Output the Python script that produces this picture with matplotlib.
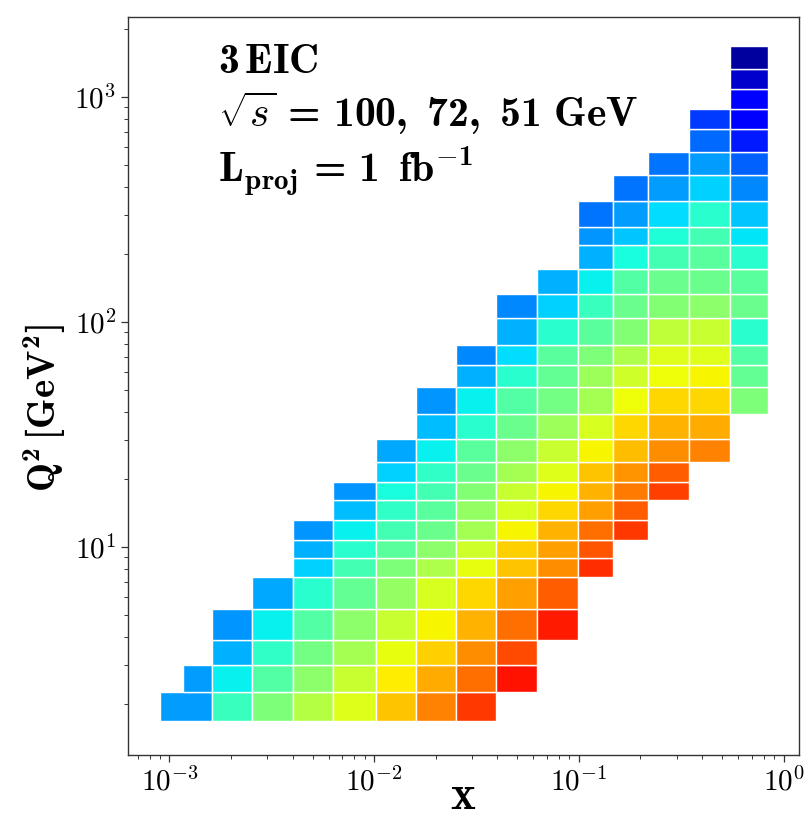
import matplotlib
matplotlib.use("Agg")
import matplotlib.pyplot as plt
import numpy as np

plt.rcParams.update({
    "font.family": "serif",
    "font.serif": ["cmr10", "DejaVu Serif"],
    "mathtext.fontset": "custom",
    "mathtext.rm": "cmr10",
    "mathtext.it": "cmmi10",
    "mathtext.bf": "cmb10",
    "mathtext.cal": "cmsy10",
    "mathtext.sf": "cmss10",
    "mathtext.tt": "cmtt10",
    "mathtext.fallback": "cm",
    "axes.formatter.use_mathtext": True,
    "axes.unicode_minus": False,
    "xtick.labelsize": 21,
    "ytick.labelsize": 21,
})

# bin edges in x (one entry per column, bottom-left columns overlap)
x_lo = [8.97e-4, 1.16e-3, 1.61e-3, 2.53e-3, 4.0e-3, 6.27e-3, 1.02e-2, 1.60e-2,
        2.51e-2, 3.93e-2, 6.23e-2, 9.91e-2, 0.147, 0.217, 0.346, 0.550]
x_hi = [1.61e-3, 1.61e-3, 2.53e-3, 4.0e-3, 6.27e-3, 1.02e-2, 1.60e-2, 2.51e-2,
        3.93e-2, 6.23e-2, 9.91e-2, 0.147, 0.217, 0.346, 0.550, 0.841]

# Q2 bin edges [GeV^2]
q2_edges = [1.69, 2.27, 2.99, 3.86, 5.30, 7.32, 8.98, 10.74, 13.18, 16.18,
            19.45, 23.9, 30.2, 39.2, 51.67, 64.4, 79.05, 104.2, 133.2, 172.9,
            221.0, 265.7, 345.0, 447.9, 569.6, 724.4, 889.0, 1091.0, 1338.0, 1685.0]

# index of the lowest Q2 bin in every column
first_row = [0, 1, 0, 0, 0, 0, 0, 0, 0, 1, 3, 5, 7, 9, 11, 13]

# normalised value per cell, bottom to top
col00 = [0.28]
col01 = [0.28]
col02 = [0.42, 0.36, 0.30, 0.27]
col03 = [0.50, 0.45, 0.41, 0.36, 0.29]
col04 = [0.57, 0.52, 0.49, 0.45, 0.40, 0.33, 0.30, 0.27]
col05 = [0.62, 0.59, 0.55, 0.52, 0.47, 0.43, 0.40, 0.36, 0.31, 0.27]
col06 = [0.70, 0.66, 0.63, 0.59, 0.53, 0.50, 0.46, 0.43, 0.41, 0.38, 0.33, 0.29]
col07 = [0.77, 0.73, 0.69, 0.65, 0.61, 0.56, 0.52, 0.48, 0.46, 0.43, 0.41, 0.36,
         0.31, 0.27]
col08 = [0.85, 0.79, 0.76, 0.72, 0.68, 0.63, 0.60, 0.55, 0.53, 0.51, 0.48, 0.46,
         0.40, 0.36, 0.30, 0.26]
col09 = [0.89, 0.83, 0.79, 0.74, 0.70, 0.69, 0.65, 0.61, 0.59, 0.55, 0.52, 0.48,
         0.45, 0.40, 0.34, 0.30, 0.26]
col10 = [0.88, 0.81, 0.76, 0.74, 0.72, 0.68, 0.65, 0.62, 0.59, 0.54, 0.49, 0.47,
         0.46, 0.40, 0.33, 0.30]
col11 = [0.86, 0.82, 0.79, 0.74, 0.72, 0.70, 0.65, 0.61, 0.55, 0.54, 0.50, 0.46,
         0.42, 0.36, 0.30, 0.27, 0.24]
col12 = [0.85, 0.81, 0.78, 0.75, 0.71, 0.68, 0.64, 0.60, 0.56, 0.51, 0.48, 0.45,
         0.38, 0.32, 0.28, 0.24]
col13 = [0.84, 0.81, 0.76, 0.72, 0.68, 0.64, 0.62, 0.58, 0.51, 0.48, 0.43, 0.39,
         0.34, 0.28, 0.24]
col14 = [0.77, 0.73, 0.68, 0.65, 0.62, 0.59, 0.52, 0.48, 0.46, 0.43, 0.40, 0.33,
         0.28, 0.23, 0.18]
col15 = [0.50, 0.47, 0.45, 0.40, 0.48, 0.46, 0.40, 0.35, 0.32, 0.26, 0.22, 0.15,
         0.12, 0.11, 0.07, 0.03]

columns = [col00, col01, col02, col03, col04, col05, col06, col07,
           col08, col09, col10, col11, col12, col13, col14, col15]

cmap = plt.get_cmap("jet")
edges = np.array(q2_edges)

fig = plt.figure(figsize=(8.12, 8.17), dpi=100)
ax = fig.add_axes([0.1576, 0.0759, 0.8264, 0.9033])

for lo, hi, start, vals in zip(x_lo, x_hi, first_row, columns):
    n = len(vals)
    bottoms = edges[start:start + n]
    tops = edges[start + 1:start + n + 1]
    ax.bar([lo] * n, tops - bottoms, width=hi - lo, bottom=bottoms, align="edge",
           color=cmap(np.array(vals)), edgecolor="white", linewidth=1.0)

ax.set_xscale("log")
ax.set_yscale("log")
ax.set_xlim(6.27e-4, 1.19)
ax.set_ylim(1.19, 2268)

ax.tick_params(which="major", length=5, width=0.9, color="#333333")
ax.tick_params(which="minor", length=3, width=0.7, color="#333333")
for s in ax.spines.values():
    s.set_color("#333333")
    s.set_linewidth(1.0)

ax.set_xlabel(r"$\mathbf{x}$", fontsize=34, labelpad=-14)
ax.set_ylabel(r"$\mathbf{Q^2\,[GeV^2]}$", fontsize=28)
ax.yaxis.set_label_coords(-0.09, 0.47)

ax.text(0.134, 0.924, r"$\mathbf{3\,EIC}$", transform=ax.transAxes,
        fontsize=30, va="baseline")
ax.text(0.134, 0.851, r"$\sqrt{s}\mathbf{\,=\,100,\ 72,\ 51\ GeV}$", transform=ax.transAxes,
        fontsize=30, va="baseline")
ax.text(0.134, 0.775, r"$\mathbf{L_{proj}\,=\,1\ \,fb^{-1}}$", transform=ax.transAxes,
        fontsize=30, va="baseline")

fig.savefig("out.png", dpi=100)
